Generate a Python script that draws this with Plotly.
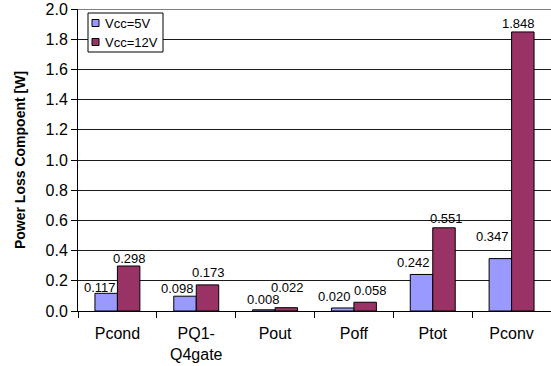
import plotly.graph_objects as go

# Loss components per operating supply voltage
categories = ["Pcond", "PQ1-<br>Q4gate", "Pout", "Poff", "Ptot", "Pconv"]
vcc5_values = [0.117, 0.098, 0.008, 0.020, 0.242, 0.347]
vcc12_values = [0.298, 0.173, 0.022, 0.058, 0.551, 1.848]
series_names = ["Vcc=5V", "Vcc=12V"]
series_colors = ["#9999FF", "#993366"]
y_ticks = [round(0.2 * i, 1) for i in range(11)]

# pixel nudges for the value labels so neighbours don't collide
label_dx = [[-6, -8, 0, -8, -8, -8], [1, 1, 1, 5, 3, -4]]
label_dy = [[6, 8, 10, 11, 12, 22], [8, 12, 20, 12, 9, 8]]

FONT = "Arial, Liberation Sans, sans-serif"
BAR_GAP = 0.43
half_bar = (1 - BAR_GAP) / 4  # centre offset of each bar inside a group

fig = go.Figure()
series = [vcc5_values, vcc12_values]
for name, vals, col in zip(series_names, series, series_colors):
    fig.add_trace(go.Bar(
        x=categories, y=vals, name=name,
        marker=dict(color=col, line=dict(color="#000000", width=1)),
        showlegend=False,
    ))

# value labels drawn above everything
for s, vals in enumerate(series):
    off = -half_bar if s == 0 else half_bar
    for i, v in enumerate(vals):
        fig.add_annotation(
            x=i + off, y=v, xref="x", yref="y",
            text=f"{v:.3f}", showarrow=False,
            xanchor="center", yanchor="middle",
            xshift=label_dx[s][i], yshift=label_dy[s][i],
            font=dict(family=FONT, size=13, color="#000000"),
        )

fig.update_layout(
    width=551, height=366,
    margin=dict(l=78, r=0, t=9, b=55),
    paper_bgcolor="white", plot_bgcolor="white",
    barmode="group", bargap=BAR_GAP, bargroupgap=0,
    font=dict(family=FONT, color="#000000"),
)
fig.update_yaxes(
    range=[0, 2.0], tickvals=y_ticks, tickformat=".1f",
    tickfont=dict(size=16, family=FONT),
    showgrid=True, gridcolor="#1a1a1a", gridwidth=1,
    showline=True, linecolor="#000000", linewidth=1,
    ticks="outside", ticklen=6, tickcolor="#000000",
    zeroline=False,
    title=dict(text="<b>Power Loss Compoent [W]</b>", font=dict(size=14, family=FONT), standoff=16),
)
fig.update_xaxes(
    tickfont=dict(size=16, family=FONT),
    showline=True, linecolor="#000000", linewidth=1,
    ticks="outside", ticklen=6, tickcolor="#000000",
    tickson="boundaries", showgrid=False,
    ticklabelstandoff=8,
)

# top border of plot area
fig.add_shape(type="line", xref="paper", yref="y", x0=0, x1=1, y0=2.0, y1=2.0,
              line=dict(color="#808080", width=2))

# legend box with swatches
fig.add_shape(type="rect", xref="paper", yref="paper",
              x0=(88 - 78) / 473, x1=(163 - 78) / 473,
              y0=(311 - 52) / 302, y1=(311 - 13) / 302,
              line=dict(color="#000000", width=1), fillcolor="white", layer="above")
for i, (name, col) in enumerate(zip(series_names, series_colors)):
    cy = 23 + 19 * i
    fig.add_shape(type="rect", xref="paper", yref="paper",
                  x0=(92 - 78) / 473, x1=(99 - 78) / 473,
                  y0=(311 - cy - 3.5) / 302, y1=(311 - cy + 3.5) / 302,
                  line=dict(color="#000000", width=1), fillcolor=col, layer="above")
    fig.add_annotation(xref="paper", yref="paper", x=(103 - 78) / 473, y=(311 - cy) / 302,
                       text=name, showarrow=False, xanchor="left", yanchor="middle",
                       font=dict(size=13, family=FONT, color="#000000"))

fig.write_html("out.html")
